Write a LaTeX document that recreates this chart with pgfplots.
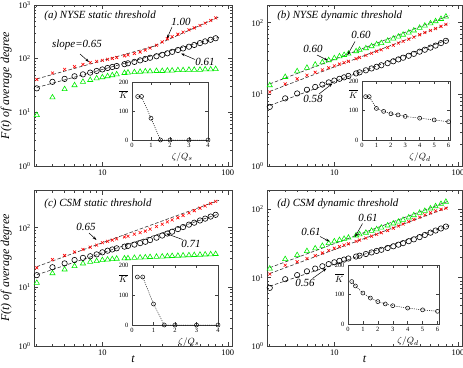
\documentclass[border=0pt]{standalone}
\usepackage{fontspec}
\setmainfont{Liberation Serif}
\usepackage{pgfplots}
\usepackage{pgfplotstable}
\pgfplotsset{compat=1.18}
\usetikzlibrary{arrows.meta}

\definecolor{myred}{RGB}{255,0,0}
\definecolor{mygreen}{RGB}{0,235,0}

\newcommand\annot{\fontsize{11}{13}\selectfont\itshape}
\newcommand\tp[1]{10\textsuperscript{#1}}

\pgfplotsset{
  redx/.style={only marks, mark=x, mark size=2.1bp, color=myred, mark options={line width=0.6pt}},
  circ/.style={only marks, mark=o, mark size=2.7bp, black, mark options={line width=0.6pt}},
  tri/.style={only marks, mark=triangle, mark size=3bp, color=mygreen, mark options={line width=0.6pt}},
  fitln/.style={black!80, line width=0.6pt, dash pattern=on 3.5pt off 2pt, no marks},
  insetdata/.style={black, line width=0.5pt, dash pattern=on 1pt off 1.2pt, mark=o, mark size=2bp, mark options={solid, line width=0.5pt}},
}

\pgfplotstableread{
t r c g
3 41 28 8.9
4 54 37 19
5 63 42 27
6 71 47 32
7 78 51 37
8 85 55 40
9 89 59 43
10 93 63 45
11 97 67 47
12 101 70 49
13 105 73 51
15 113 79 54
16 117 82 55
18 125 87 56
20 133 93 57
22 145 99 58
24 158 104 58
27 178 111 59
30 205 118 59
33 235 126 60
36 258 134 60
40 285 145 61
44 312 155 61
49 345 167 62
54 375 180 62
60 415 195 62
66 460 210 63
73 515 225 63
80 575 240 64
}\tabA

\pgfplotstableread{
t r c g
3 10.8 6.7 13.4
4 14 8.8 17.5
5 16.5 10.3 21
6 18.5 11.6 23.5
7 20.3 12.7 26
8 22 13.7 28
9 23.5 14.7 30
10 25 15.6 32
11 26.5 16.5 34
12 27.8 17.3 35.5
13 29 18.1 37
15 31.5 19.6 40
16 32.8 20.3 42
18 35 21.7 44
20 37.5 23 47
22 40 24.3 50
24 42 25.5 52
27 45 27.3 56
30 48.5 29 60
33 52 30.8 64
36 55 32.5 68
40 59 34.6 73
44 63 36.8 78
49 68 39.5 85
54 73 42 91
60 78 45 98
66 83 48 105
73 89 52 113
80 95 56 122
}\tabB

\pgfplotstableread{
t r c g
3 21 15.8 11.7
4 29 21.5 17
5 34 25 19.7
6 39 28.5 22.4
7 43 31 24.9
8 47 33 26.5
9 51 35.5 27.3
10 56 38.5 28.4
11 59 41 29
12 62 43 29.5
13 65 45 30
15 70 48 30.3
16 72 49.5 30.5
18 78 52 31
20 83 55 31.3
22 88 58 31.6
24 95 62 32
27 105 68 32.3
30 115 74 32.6
33 126 80 33
36 136 86 33.3
40 148 95 33.6
44 162 103 34
49 178 113 34.3
54 195 122 34.6
60 215 133 35
66 235 143 35.3
73 258 155 35.6
80 280 166 36
}\tabC

\pgfplotstableread{
t r c g
3 11.3 7.1 13.6
4 15.2 9.5 18.7
5 17.1 10.9 21.4
6 19.1 12.4 24.5
7 21 13.6 26.8
8 23 14.7 29.2
9 25 15.8 32
10 27 16.8 34
11 28.5 17.6 35.5
12 30 18.4 37
13 31.3 19.1 38.5
15 34 20.4 41.5
16 35.5 21 43
18 38 22.2 45.5
20 40.5 23.4 48.5
22 43 24.6 51
24 45.5 25.6 54
27 49 27.2 58
30 53 28.8 62
33 57 30.4 66
36 61 32 70
40 66 34.2 76
44 71 36.4 82
49 77 39.3 89
54 83 42.2 95
60 89 45.6 103
66 95 49 111
73 100 52.5 120
80 104 56 129
}\tabD

\begin{document}
\begin{tikzpicture}
\useasboundingbox (0,0) rectangle (463bp,-368bp);

% ---------------- (a)
\begin{axis}[scale only axis, xmode=log, ymode=log,
    xmin=2.85, xmax=108, ymin=1, ymax=1000,
    xtick={10,100}, xticklabels={10,100},
    minor xtick={3,4,5,6,7,8,9,20,30,40,50,60,70,80,90},
    ytick={1,10,100,1000}, yticklabels={\tp{0},\tp{1},\tp{2},\tp{3}},
    tick align=inside, major tick length=4.5bp, minor tick length=2.5bp,
    axis line style={black!75, line width=0.9pt},
    tick style={black!75, line width=0.6pt},
    tick label style={font=\fontsize{8.5}{9}\selectfont},
    label style={font=\fontsize{12}{14}\selectfont\itshape},
    anchor=north west, at={(34bp,-5bp)}, width=198bp, height=161bp,
    ylabel={F(t) of average degree}]
\addplot[tri] table[x=t,y=g]{\tabA};
\addplot[circ] table[x=t,y=c]{\tabA};
\addplot[redx] table[x=t,y=r]{\tabA};
\addplot[fitln] coordinates {(3,42) (28,180)};
\addplot[fitln] coordinates {(24,160) (85,600)};
\addplot[fitln] coordinates {(3,29) (85,250)};
\node[anchor=west, font=\annot] at (rel axis cs:0.035,0.93) {(a) NYSE static threshold};
\end{axis}

% ---------------- (b)
\begin{axis}[scale only axis, xmode=log, ymode=log,
    xmin=2.85, xmax=108, ymin=1, ymax=177,
    xtick={10,100}, xticklabels={10,100},
    minor xtick={3,4,5,6,7,8,9,20,30,40,50,60,70,80,90},
    ytick={1,10,100}, yticklabels={\tp{0},\tp{1},\tp{2}},
    tick align=inside, major tick length=4.5bp, minor tick length=2.5bp,
    axis line style={black!75, line width=0.9pt},
    tick style={black!75, line width=0.6pt},
    tick label style={font=\fontsize{8.5}{9}\selectfont},
    label style={font=\fontsize{12}{14}\selectfont\itshape},
    anchor=north west, at={(267bp,-5bp)}, width=195bp, height=161bp]
\addplot[tri] table[x=t,y=g]{\tabB};
\addplot[circ] table[x=t,y=c]{\tabB};
\addplot[redx] table[x=t,y=r]{\tabB};
\addplot[fitln] coordinates {(3,14) (85,126)};
\addplot[fitln] coordinates {(3,11) (85,98)};
\addplot[fitln] coordinates {(3,7) (85,59)};
\node[anchor=west, font=\annot] at (rel axis cs:0.035,0.93) {(b) NYSE dynamic threshold};
\end{axis}

% ---------------- (c)
\begin{axis}[scale only axis, xmode=log, ymode=log,
    xmin=2.85, xmax=108, ymin=1, ymax=436,
    xtick={10,100}, xticklabels={10,100},
    minor xtick={3,4,5,6,7,8,9,20,30,40,50,60,70,80,90},
    ytick={1,10,100}, yticklabels={\tp{0},\tp{1},\tp{2}},
    tick align=inside, major tick length=4.5bp, minor tick length=2.5bp,
    axis line style={black!75, line width=0.9pt},
    tick style={black!75, line width=0.6pt},
    tick label style={font=\fontsize{8.5}{9}\selectfont},
    label style={font=\fontsize{12}{14}\selectfont\itshape},
    xlabel style={yshift=6bp},
    anchor=north west, at={(34bp,-190bp)}, width=198bp, height=156bp,
    ylabel={F(t) of average degree}, xlabel={t}]
\addplot[tri] table[x=t,y=g]{\tabC};
\addplot[circ] table[x=t,y=c]{\tabC};
\addplot[redx] table[x=t,y=r]{\tabC};
\addplot[fitln] coordinates {(3,22) (85,292)};
\addplot[fitln] coordinates {(3,16) (85,172)};
\node[anchor=west, font=\annot] at (rel axis cs:0.035,0.91) {(c) CSM static threshold};
\end{axis}

% ---------------- (d)
\begin{axis}[scale only axis, xmode=log, ymode=log,
    xmin=2.85, xmax=108, ymin=1, ymax=192,
    xtick={10,100}, xticklabels={10,100},
    minor xtick={3,4,5,6,7,8,9,20,30,40,50,60,70,80,90},
    ytick={1,10,100}, yticklabels={\tp{0},\tp{1},\tp{2}},
    tick align=inside, major tick length=4.5bp, minor tick length=2.5bp,
    axis line style={black!75, line width=0.9pt},
    tick style={black!75, line width=0.6pt},
    tick label style={font=\fontsize{8.5}{9}\selectfont},
    label style={font=\fontsize{12}{14}\selectfont\itshape},
    xlabel style={yshift=6bp},
    anchor=north west, at={(267bp,-190bp)}, width=195bp, height=156bp,
    xlabel={t}]
\addplot[tri] table[x=t,y=g]{\tabD};
\addplot[circ] table[x=t,y=c]{\tabD};
\addplot[redx] table[x=t,y=r]{\tabD};
\addplot[fitln] coordinates {(3,14) (85,133)};
\addplot[fitln] coordinates {(3,11.5) (85,108)};
\addplot[fitln] coordinates {(3,7.5) (85,58)};
\node[anchor=west, font=\annot] at (rel axis cs:0.035,0.91) {(d) CSM dynamic threshold};
\end{axis}

% ---------------- insets
\begin{axis}[scale only axis, anchor=north west, clip=false,
    ymin=0, ymax=200, ytick={0,100,200}, xmin=0, xmax=4, xtick={0,1,2,3,4},
    /pgf/number format/assume math mode=true,
    tick align=inside, major tick length=3bp,
    axis background/.style={fill=white},
    axis line style={black!75, line width=0.7pt},
    tick style={black!75, line width=0.5pt},
    tick label style={font=\fontsize{6.5}{7}\selectfont},
    xlabel style={at={(rel axis cs:0.66,0)}, anchor=north, yshift=-9bp, font=\fontsize{9.5}{10}\selectfont},
    at={(132bp,-82bp)}, width=76bp, height=58bp,
    xlabel={$\zeta/Q_s$}]
\addplot[insetdata] coordinates {(0.3,150) (0.5,150) (1,75) (1.5,0) (2,0) (3,0) (4,0)};
\node[anchor=east, font=\fontsize{9}{10}\selectfont] at (rel axis cs:-0.01,0.78) {$\overline{K}$};
\end{axis}

\begin{axis}[scale only axis, anchor=north west, clip=false,
    ymin=0, ymax=200, ytick={0,100,200}, xmin=0, xmax=6.1, xtick={0,1,2,3,4,5,6},
    /pgf/number format/assume math mode=true,
    tick align=inside, major tick length=3bp,
    axis background/.style={fill=white},
    axis line style={black!75, line width=0.7pt},
    tick style={black!75, line width=0.5pt},
    tick label style={font=\fontsize{6.5}{7}\selectfont},
    xlabel style={at={(rel axis cs:0.66,0)}, anchor=north, yshift=-9bp, font=\fontsize{9.5}{10}\selectfont},
    at={(362bp,-81bp)}, width=88bp, height=59bp,
    xlabel={$\zeta/Q_d$}]
\addplot[insetdata] coordinates {(0.25,147) (0.5,147) (1,107) (1.5,97) (2,89) (2.5,85) (3,80) (4,74) (5,68) (6,62)};
\node[anchor=east, font=\fontsize{9}{10}\selectfont] at (rel axis cs:-0.01,0.78) {$\overline{K}$};
\end{axis}

\begin{axis}[scale only axis, anchor=north west, clip=false,
    ymin=0, ymax=200, ytick={0,100,200}, xmin=0, xmax=4, xtick={0,1,2,3,4},
    /pgf/number format/assume math mode=true,
    tick align=inside, major tick length=3bp,
    axis background/.style={fill=white},
    axis line style={black!75, line width=0.7pt},
    tick style={black!75, line width=0.5pt},
    tick label style={font=\fontsize{6.5}{7}\selectfont},
    xlabel style={at={(rel axis cs:0.66,0)}, anchor=north, yshift=-9bp, font=\fontsize{9.5}{10}\selectfont},
    at={(132bp,-265bp)}, width=86bp, height=60bp,
    xlabel={$\zeta/Q_s$}]
\addplot[insetdata] coordinates {(0.25,160) (0.5,160) (1,70) (1.5,0) (2,0) (3,0) (4,0)};
\node[anchor=east, font=\fontsize{9}{10}\selectfont] at (rel axis cs:-0.01,0.78) {$\overline{K}$};
\end{axis}

\begin{axis}[scale only axis, anchor=north west, clip=false,
    ymin=0, ymax=200, ytick={0,100,200}, xmin=0, xmax=6.1, xtick={0,1,2,3,4,5,6},
    /pgf/number format/assume math mode=true,
    tick align=inside, major tick length=3bp,
    axis background/.style={fill=white},
    axis line style={black!75, line width=0.7pt},
    tick style={black!75, line width=0.5pt},
    tick label style={font=\fontsize{6.5}{7}\selectfont},
    xlabel style={at={(rel axis cs:0.66,0)}, anchor=north, yshift=-9bp, font=\fontsize{9.5}{10}\selectfont},
    at={(348bp,-265bp)}, width=91bp, height=59bp,
    xlabel={$\zeta/Q_d$}]
\addplot[insetdata] coordinates {(0.25,144) (0.5,129) (1,105) (1.5,88) (2,76) (2.5,68) (3,62) (4,54) (5,48) (6,43)};
\node[anchor=east, font=\fontsize{9}{10}\selectfont] at (rel axis cs:-0.01,0.78) {$\overline{K}$};
\end{axis}

% ---------------- annotations
\tikzset{arr/.style={-{Stealth[length=4bp,width=2.6bp]}, line width=0.5pt, black}}
% (a)
\node[font=\annot] at (77bp,-45bp) {slope=0.65};
\draw[arr] (80bp,-54bp) -- (89bp,-62bp);
\node[font=\annot] at (181bp,-22bp) {1.00};
\draw[arr] (172bp,-27bp) -- (167bp,-38.5bp);
\node[font=\annot] at (205bp,-62bp) {0.61};
\draw[arr] (195bp,-59.5bp) -- (181bp,-53.5bp);
% (b)
\node[font=\annot] at (313bp,-49bp) {0.60};
\draw[arr] (317bp,-55bp) -- (328bp,-60.5bp);
\node[font=\annot] at (361bp,-35bp) {0.60};
\draw[arr] (355bp,-41.5bp) -- (347.5bp,-55bp);
\node[font=\annot] at (313bp,-99bp) {0.58};
\draw[arr] (319bp,-94bp) -- (332.5bp,-83.5bp);
% (c)
\node[font=\annot] at (86bp,-227bp) {0.65};
\draw[arr] (89bp,-233bp) -- (96.5bp,-240bp);
\node[font=\annot] at (191bp,-244bp) {0.71};
\draw[arr] (182.5bp,-239.5bp) -- (166bp,-233.5bp);
% (d)
\node[font=\annot] at (311bp,-232bp) {0.61};
\draw[arr] (320bp,-236.5bp) -- (329.5bp,-241.5bp);
\node[font=\annot] at (368bp,-218bp) {0.61};
\draw[arr] (362.5bp,-223.5bp) -- (355bp,-237bp);
\node[font=\annot] at (305bp,-283bp) {0.56};
\draw[arr] (312.5bp,-278.5bp) -- (326.5bp,-268.5bp);
\end{tikzpicture}
\end{document}
